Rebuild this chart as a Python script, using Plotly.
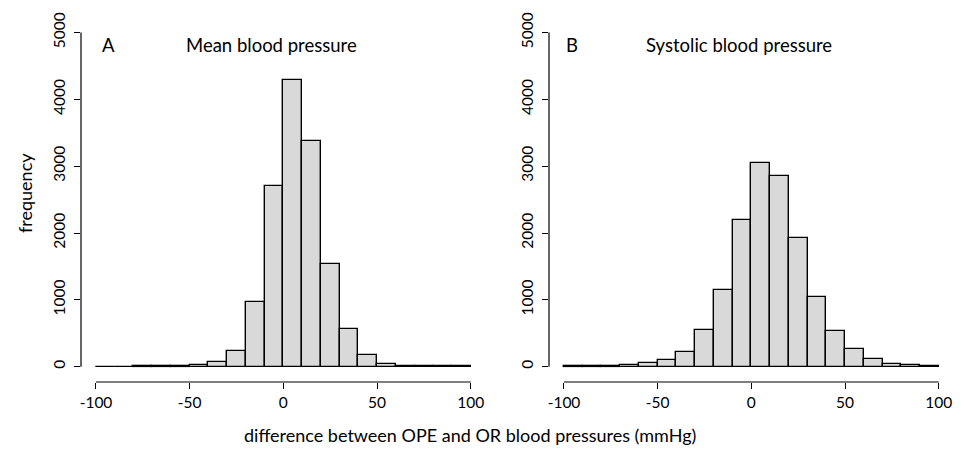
import plotly.graph_objects as go

W, H = 962, 451

bin_left = [-100, -90, -80, -70, -60, -50, -40, -30, -20, -10,
            0, 10, 20, 30, 40, 50, 60, 70, 80, 90]
mean_counts = [1, 1, 6, 7, 12, 30, 65, 240, 970, 2700,
               4290, 3370, 1535, 565, 175, 40, 12, 4, 3, 8]
systolic_counts = [3, 5, 8, 25, 55, 95, 220, 550, 1145, 2190,
                   3045, 2845, 1920, 1040, 540, 270, 110, 36, 20, 5]
x_ticks = [-100, -50, 0, 50, 100]
x_tick_labels = ["-100", "-50", "0", "50", "100"]
y_ticks = [0, 1000, 2000, 3000, 4000, 5000]
y_tick_labels = ["0", "1000", "2000", "3000", "4000", "5000"]
panel_letters = ["A", "B"]
panel_titles = ["Mean blood pressure", "Systolic blood pressure"]

FONT = "Lato"
FILL = "#d9d9d9"

def px_x(p):
    return p / W

def px_y(p):
    return 1 - p / H

fig = go.Figure()
centers = [b + 5 for b in bin_left]
for i, counts in enumerate([mean_counts, systolic_counts]):
    xa = "x" if i == 0 else "x2"
    ya = "y" if i == 0 else "y2"
    fig.add_trace(go.Bar(
        x=centers, y=counts, width=10, xaxis=xa, yaxis=ya,
        marker=dict(color=FILL, line=dict(color="black", width=1.4)),
        showlegend=False, hoverinfo="x+y",
    ))

y_dom = [px_y(382), px_y(19.1)]
axis_common = dict(
    range=[-108, 108], tickvals=x_ticks, ticktext=x_tick_labels,
    ticks="outside", ticklen=6,
    tickwidth=1.2, tickcolor="black", showline=False, showgrid=False,
    zeroline=False, tickfont=dict(family=FONT, size=15.5, color="black"),
    fixedrange=True,
)
yaxis_common = dict(
    range=[-229, 5200], tickvals=y_ticks, ticktext=y_tick_labels,
    ticks="outside", ticklen=6,
    tickwidth=1.2, tickcolor="black", showline=False, showgrid=False,
    zeroline=False, tickangle=-90,
    tickfont=dict(family=FONT, size=15.5, color="black"), fixedrange=True,
)
fig.update_layout(
    width=W, height=H,
    margin=dict(l=0, r=0, t=0, b=0, autoexpand=False),
    paper_bgcolor="white", plot_bgcolor="white",
    bargap=0,
    xaxis=dict(domain=[px_x(81.0), px_x(485.7)], anchor="y", **axis_common),
    yaxis=dict(domain=y_dom, anchor="x", ticklabelstandoff=3, **yaxis_common),
    xaxis2=dict(domain=[px_x(549.0), px_x(953.7)], anchor="y2", **axis_common),
    yaxis2=dict(domain=y_dom, anchor="x2", ticklabelstandoff=3, **yaxis_common),
    font=dict(family=FONT, color="black"),
)

# R-style axis lines spanning only from first to last tick
for xr, yr in [("x", "y"), ("x2", "y2")]:
    fig.add_shape(type="line", xref=xr, yref=yr + " domain",
                  x0=x_ticks[0], x1=x_ticks[-1], y0=0, y1=0,
                  line=dict(color="black", width=1.2))
    fig.add_shape(type="line", xref=xr + " domain", yref=yr,
                  x0=0, x1=0, y0=y_ticks[0], y1=y_ticks[-1],
                  line=dict(color="black", width=1.2))

letter_x = [108, 572]
title_x = [271, 739]
for i in range(2):
    fig.add_annotation(text=panel_letters[i], x=px_x(letter_x[i]), y=px_y(45),
                       xref="paper", yref="paper", showarrow=False,
                       xanchor="center", yanchor="middle",
                       font=dict(family=FONT, size=18.5, color="black"))
    fig.add_annotation(text=panel_titles[i], x=px_x(title_x[i]), y=px_y(45),
                       xref="paper", yref="paper", showarrow=False,
                       xanchor="center", yanchor="middle",
                       font=dict(family=FONT, size=18.5, color="black"))

fig.add_annotation(text="frequency", x=px_x(25), y=px_y(193), xref="paper",
                   yref="paper", showarrow=False, textangle=-90,
                   xanchor="center", yanchor="middle",
                   font=dict(family=FONT, size=18, color="black"))
fig.add_annotation(text="difference between OPE and OR blood pressures (mmHg)",
                   x=px_x(470), y=px_y(435), xref="paper", yref="paper",
                   showarrow=False, xanchor="center", yanchor="middle",
                   font=dict(family=FONT, size=18, color="black"))

fig.write_html("out.html")
